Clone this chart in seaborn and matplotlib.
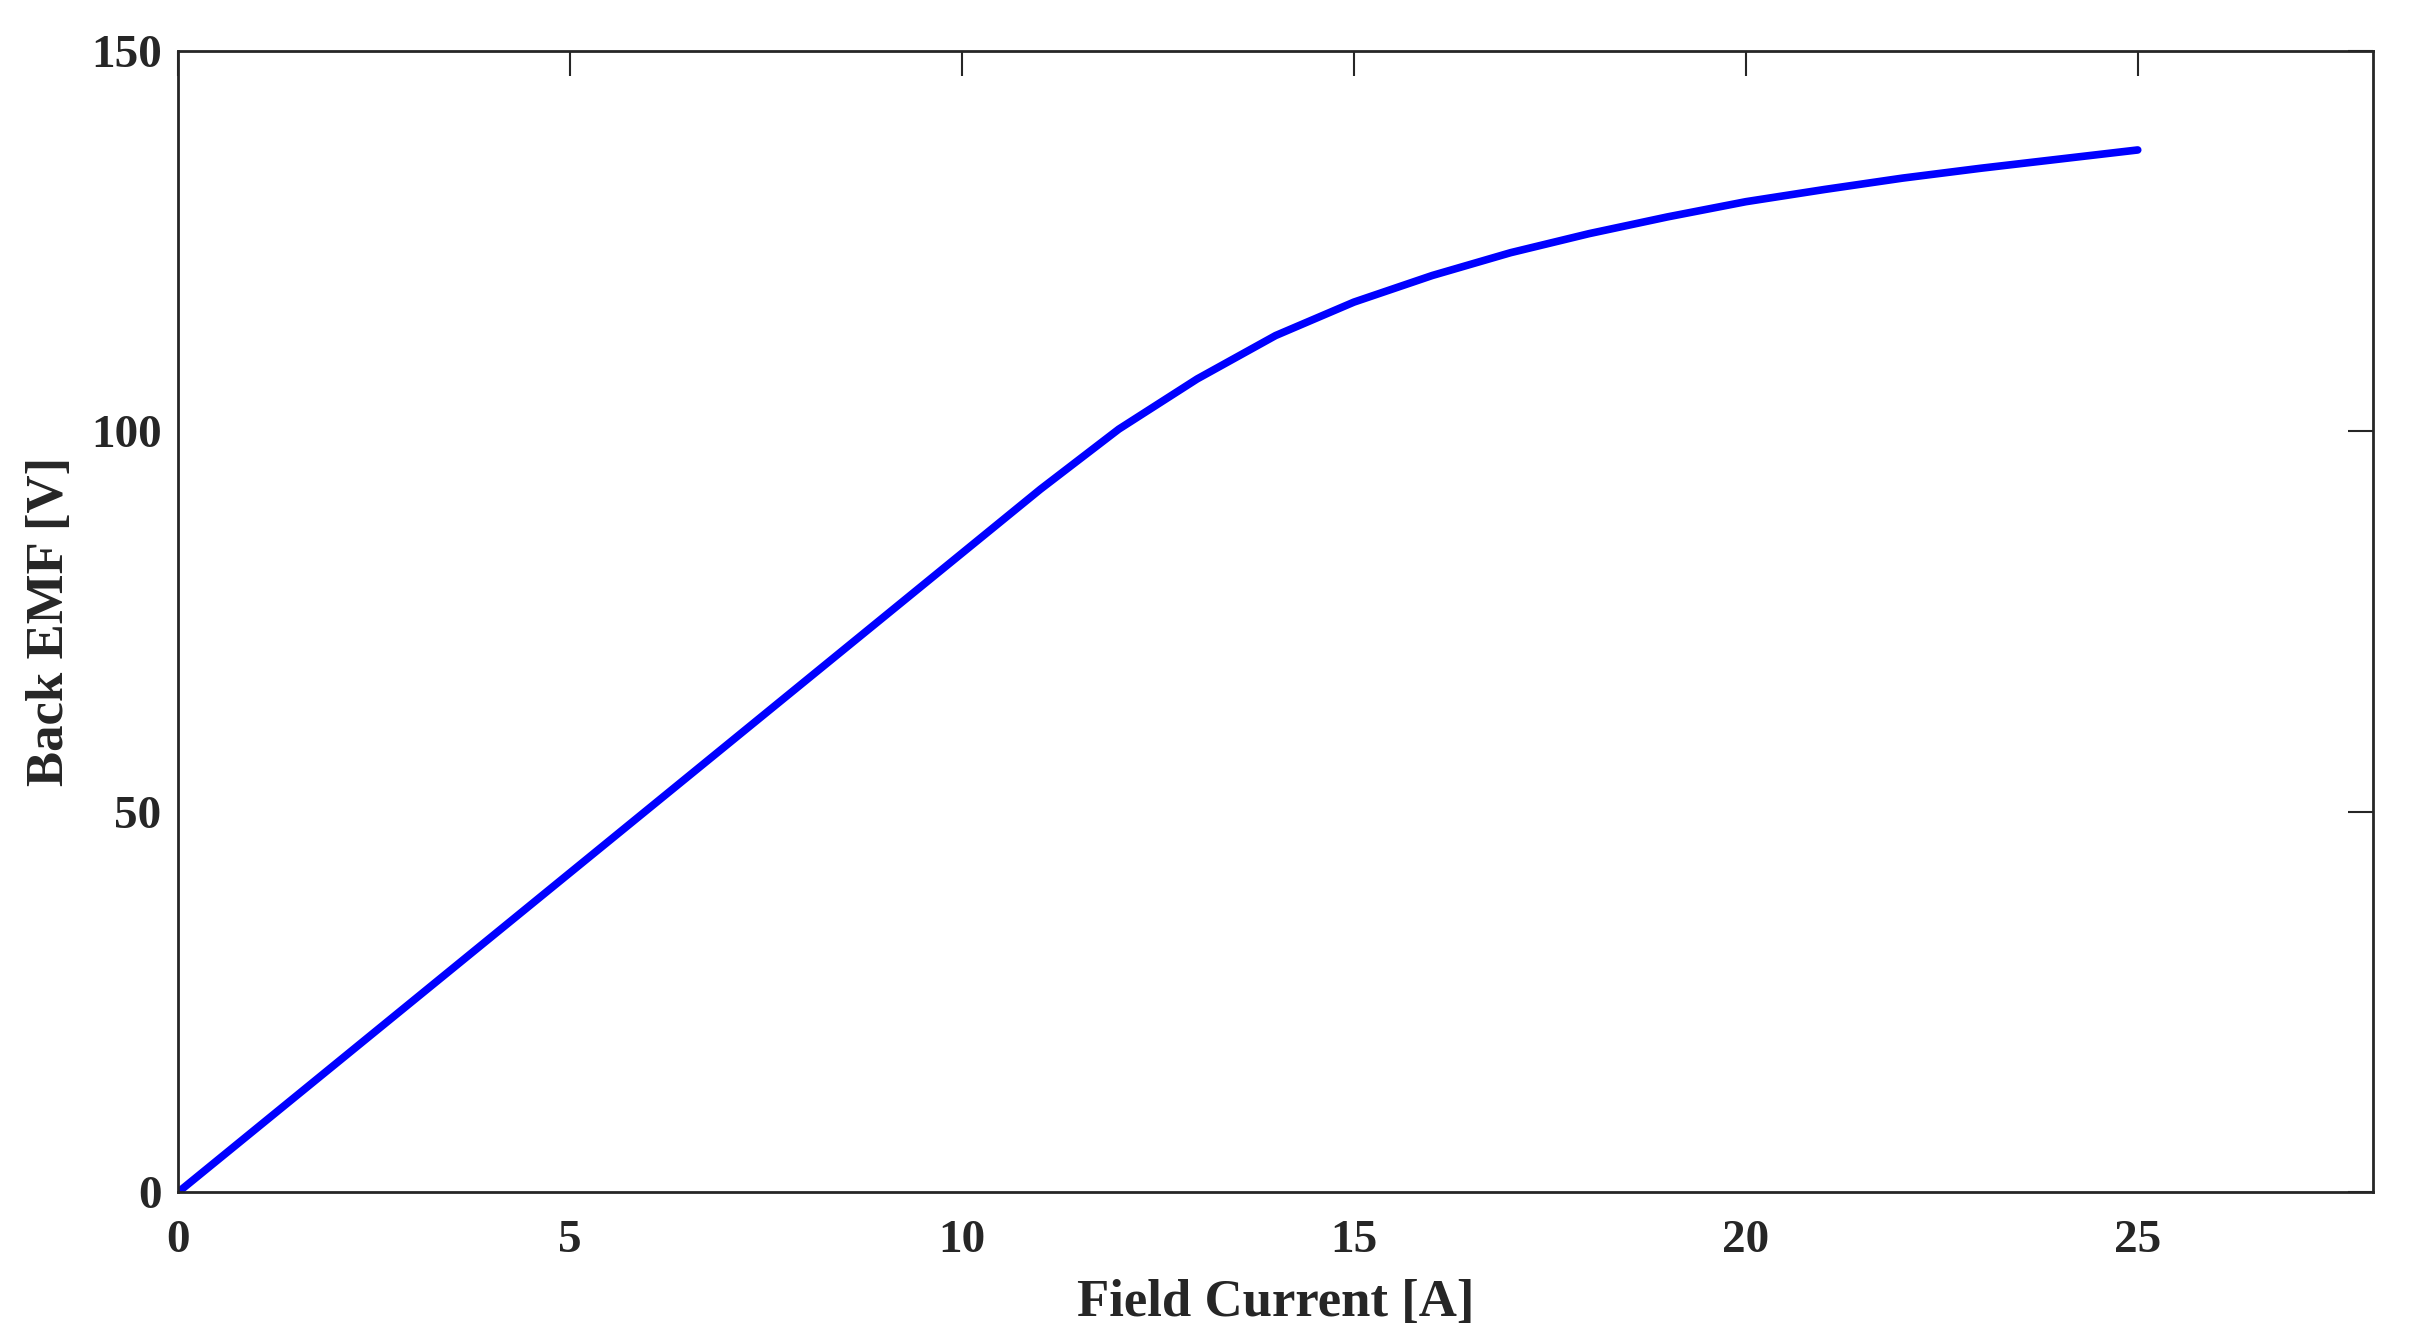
import numpy as np
import pandas as pd
import seaborn as sns
import matplotlib.pyplot as plt

# courbe de magnetisation
field_current = [0, 1, 2, 3, 4, 5, 6, 7, 8, 9, 10, 11, 12, 13, 14, 15, 16, 17, 18, 19, 20, 21, 22, 23, 24, 25]
back_emf = [0, 8.4, 16.8, 25.2, 33.6, 42.0, 50.4, 58.8, 67.2, 75.6, 84.0, 92.4, 100.3, 106.9, 112.6, 117.0,
            120.5, 123.5, 126.0, 128.2, 130.2, 131.8, 133.3, 134.6, 135.8, 137.0]
x_ticks = [0, 5, 10, 15, 20, 25]
y_ticks = [0, 50, 100, 150]

data = pd.DataFrame({"Field Current": field_current, "Back EMF": back_emf})

sns.set_theme(style="white")
plt.rcParams['font.family'] = ['Liberation Serif', 'DejaVu Serif']
plt.rcParams['font.weight'] = 'bold'
txt = '#262626'

fig, ax = plt.subplots(figsize=(24.09, 13.44), dpi=100)
fig.subplots_adjust(left=0.074, right=0.985, bottom=0.113, top=0.962)
sns.lineplot(x="Field Current", y="Back EMF", data=data, color='#0000ff', linewidth=5.5, ax=ax)

ax.set_xlim(0, 28)
ax.set_ylim(0, 150)
ax.set_xticks(x_ticks)
ax.set_yticks(y_ticks)
ax.tick_params(direction='in', length=18, width=1.5, top=True, right=True, labelsize=34,
               colors=txt)
ax.tick_params(axis='x', pad=20)
ax.tick_params(axis='y', pad=12)
for lab in ax.get_xticklabels() + ax.get_yticklabels():
    lab.set_fontweight('bold')
for s in ax.spines.values():
    s.set_color(txt)
    s.set_linewidth(2)
ax.set_xlabel("Field Current [A]", fontsize=38, fontweight='bold', color=txt, labelpad=12)
ax.set_ylabel("Back EMF [V]", fontsize=38, fontweight='bold', color=txt, labelpad=12)

plt.savefig("out.png")
